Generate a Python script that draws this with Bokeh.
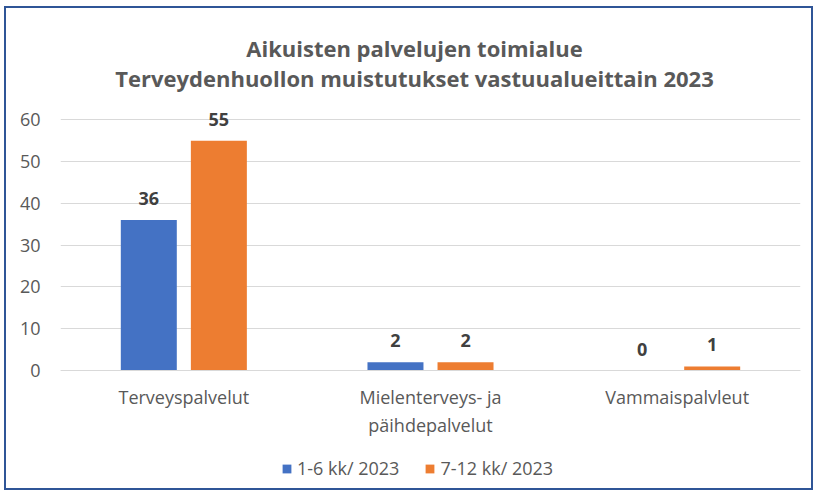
from bokeh.plotting import figure
from bokeh.models import ColumnDataSource, LabelSet, Label, Legend, LegendItem, FactorRange
from bokeh.transform import dodge
from bokeh.core.properties import value
from bokeh.embed import file_html
from bokeh.resources import INLINE

categories = ["Terveyspalvelut", "Mielenterveys- ja\npäihdepalvelut", "Vammaispalvleut"]
series_names = ["1-6 kk/ 2023", "7-12 kk/ 2023"]
h1_values = [36, 2, 0]
h2_values = [55, 2, 1]
y_ticks = [0, 10, 20, 30, 40, 50, 60]
title_line1 = "Aikuisten palvelujen toimialue"
title_line2 = "Terveydenhuollon muistutukset vastuualueittain 2023"
colors = ["#4472C4", "#ED7D31"]

FONT = "Open Sans"
TXT = "#595959"

src = ColumnDataSource(dict(cat=categories, h1=h1_values, h2=h2_values,
                            l1=[str(v) for v in h1_values], l2=[str(v) for v in h2_values]))

# frame spans the whole chart area; the value axis only shows 0..60
p = figure(x_range=FactorRange(*categories), y_range=(-28.2, 86.6),
           frame_width=740, frame_height=480,
           output_backend="svg", toolbar_location=None,
           min_border_left=54, min_border_right=11, min_border_top=0, min_border_bottom=0)
p.styles = {"border": "2px solid #2F5597",
            "margin-left": "4px", "margin-top": "6px"}

r1 = p.vbar(x=dodge("cat", -0.142, range=p.x_range), top="h1", width=0.227, source=src,
            color=colors[0], line_color=None)
r2 = p.vbar(x=dodge("cat", 0.142, range=p.x_range), top="h2", width=0.227, source=src,
            color=colors[1], line_color=None)

for col, lab, off in (("h1", "l1", -0.142), ("h2", "l2", 0.142)):
    ls = LabelSet(x=dodge("cat", off, range=p.x_range), y=col, text=lab, source=src,
                  text_align="center", text_baseline="bottom", y_offset=15,
                  text_font=value(FONT), text_font_style="bold", text_font_size="18px",
                  text_color="#404040")
    p.add_layout(ls)

p.outline_line_color = None
p.xgrid.grid_line_color = None
p.ygrid.grid_line_color = "#D9D9D9"
p.ygrid.grid_line_width = 1
p.yaxis.ticker = y_ticks
p.yaxis.axis_line_color = None
p.yaxis.major_tick_line_color = None
p.yaxis.minor_tick_line_color = None
p.yaxis.major_tick_out = 0
p.yaxis.minor_tick_out = 0
p.yaxis.major_label_standoff = 20
p.yaxis.major_label_text_font = FONT
p.yaxis.major_label_text_font_size = "18px"
p.yaxis.major_label_text_color = TXT
p.xaxis.fixed_location = 0
p.xaxis.axis_line_color = "#D9D9D9"
p.xaxis.major_tick_line_color = None
p.xaxis.minor_tick_line_color = None
p.xaxis.major_tick_out = 0
p.xaxis.minor_tick_out = 0
p.xaxis.major_label_standoff = 14
p.xaxis.major_label_text_font = FONT
p.xaxis.major_label_text_font_size = "18px"
p.xaxis.major_label_text_color = TXT
p.x_range.range_padding = 0.0

for txt, yy in ((title_line1, 441), (title_line2, 411)):
    p.add_layout(Label(x=354, y=yy, x_units="screen", y_units="screen", text=txt,
                       text_align="center", text_baseline="middle", text_font=FONT,
                       text_font_style="bold", text_font_size="22px", text_color=TXT))

legend = Legend(items=[LegendItem(label=series_names[0], renderers=[r1]),
                       LegendItem(label=series_names[1], renderers=[r2])],
                location=(221, 8), orientation="horizontal",
                glyph_width=11, glyph_height=11, label_text_font=FONT, label_text_font_size="18px",
                label_text_color=TXT, label_standoff=5, spacing=25, padding=0, margin=0,
                border_line_color=None, background_fill_alpha=0)
p.add_layout(legend, "center")

open("out.html", "w").write(file_html(p, INLINE))
